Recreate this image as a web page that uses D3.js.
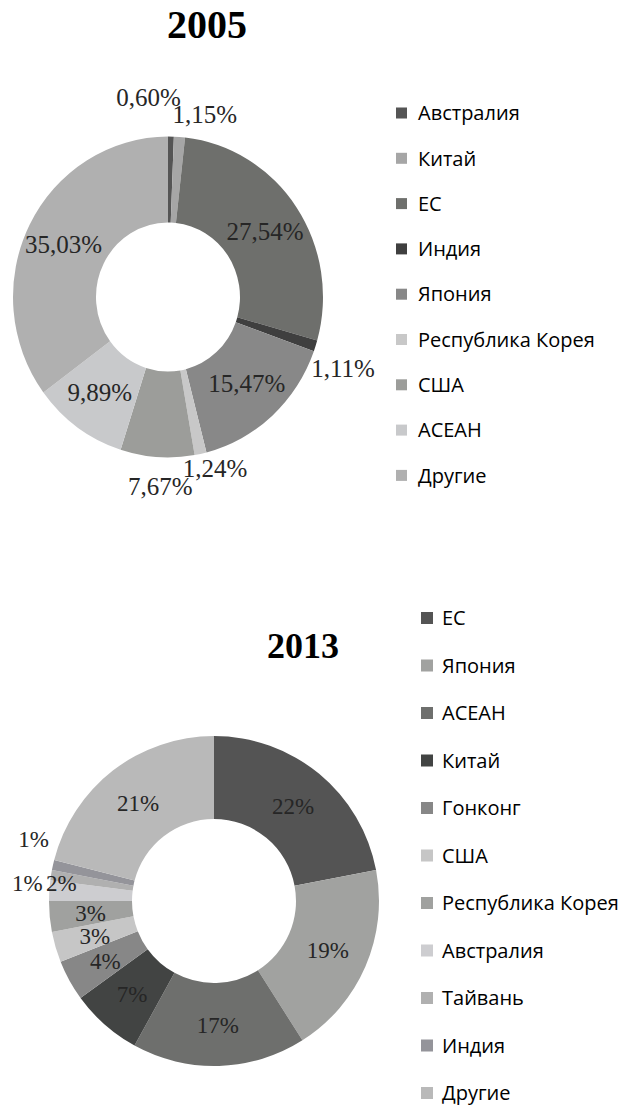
<!DOCTYPE html>
<html>
<head>
<meta charset="utf-8">
<script src="https://cdn.jsdelivr.net/npm/d3@7"></script>
<style>
  html, body { margin: 0; padding: 0; background: #fff; }
</style>
</head>
<body>
<div id="chart"></div>
<script>
// 2005
const cats2005 = ["Австралия", "Китай", "ЕС", "Индия", "Япония", "Республика Корея", "США", "АСЕАН", "Другие"]
const shares2005 = [0.60, 1.15, 27.54, 1.11, 15.47, 1.24, 7.67, 9.89, 35.03]
const colors2005 = ["#555555", "#a6a6a6", "#6e6f6c", "#3f3f3f", "#888888", "#c8c8c8", "#9c9d9a", "#c8c9cb", "#b0b0b0"]

// 2013
const cats2013 = ["ЕС", "Япония", "АСЕАН", "Китай", "Гонконг", "США", "Республика Корея", "Австралия", "Тайвань", "Индия", "Другие"]
const shares2013 = [22, 19, 17, 7, 4, 3, 3, 2, 1, 1, 21]
const colors2013 = ["#545454", "#a1a2a0", "#6e6f6d", "#424443", "#878787", "#c6c6c6", "#a0a19f", "#cdcdd0", "#b0b0b0", "#94949a", "#b9b9b9"]

const width = 627
const height = 1111

const svg = d3.select("#chart")
  .append("svg")
  .attr("width", width)
  .attr("height", height)

const labelFont = "'Liberation Serif', 'Times New Roman', serif"
const legendFont = "'Open Sans', 'Noto Sans', sans-serif"

function drawDonut(o) {
  const pie = d3.pie().sort(null).value(d => d)
  const arcs = pie(o.values)

  const arc = d3.arc().innerRadius(o.inner).outerRadius(o.outer)

  const g = svg.append("g")
    .attr("transform", `translate(${o.cx},${o.cy})`)

  g.append("g")
    .attr("transform", `scale(1,${o.squash})`)
    .selectAll("path")
    .data(arcs)
    .join("path")
    .attr("fill", (d, i) => o.colors[i])
    .attr("d", arc)

  // labels: inside on the ring, small slices pushed outside
  const inArc = d3.arc().innerRadius(o.labelR).outerRadius(o.labelR)
  const outArc = d3.arc().innerRadius(o.outR).outerRadius(o.outR)

  g.selectAll("text.lbl")
    .data(arcs)
    .join("text")
    .attr("class", "lbl")
    .attr("transform", (d, i) => {
      const special = o.special[i]
      const base = special && special.r ? d3.arc().innerRadius(special.r).outerRadius(special.r).centroid(d)
        : (o.outside.includes(i) ? outArc.centroid(d) : inArc.centroid(d))
      const n = special ? special.n : [0, 0]
      return `translate(${base[0] + n[0]},${base[1] + n[1]})`
    })
    .attr("text-anchor", "middle")
    .attr("dy", "0.35em")
    .attr("font-family", labelFont)
    .attr("font-size", o.fontSize)
    .attr("fill", "#262626")
    .text(d => o.fmt(d.data))
}

function drawLegend(o) {
  const g = svg.append("g")
  const item = g.selectAll("g")
    .data(o.cats)
    .join("g")
    .attr("transform", (d, i) => `translate(${o.x},${o.y + i * o.step})`)

  item.append("rect")
    .attr("x", 0)
    .attr("y", -o.size / 2)
    .attr("width", o.size)
    .attr("height", o.size)
    .attr("fill", (d, i) => o.colors[i])

  item.append("text")
    .attr("x", o.textX)
    .attr("dy", "0.36em")
    .attr("font-family", legendFont)
    .attr("font-size", 20)
    .attr("fill", "#000")
    .text(d => d)
}

function title(text, x, y, size) {
  svg.append("text")
    .attr("x", x)
    .attr("y", y)
    .attr("text-anchor", "middle")
    .attr("font-family", labelFont)
    .attr("font-weight", "bold")
    .attr("font-size", size)
    .attr("fill", "#000")
    .text(text)
}

// ---- 2005 ----
title("2005", 207, 38, 40)

drawDonut({
  values: shares2005,
  colors: colors2005,
  cx: 168, cy: 297, outer: 155, inner: 72, squash: 1.035,
  labelR: 117, outR: 186,
  outside: [0, 1, 3, 5, 6],
  special: {
    0: { n: [-23, -14] },
    1: { n: [23, 3] },
    3: { n: [-2, 14] },
    5: { n: [8, -11] },
    6: { n: [5, 4] }
  },
  fontSize: 25,
  fmt: v => d3.format(".2f")(v).replace(".", ",") + "%"
})

drawLegend({ cats: cats2005, colors: colors2005, x: 396, y: 113, step: 45.3, size: 11, textX: 22 })

// ---- 2013 ----
title("2013", 303, 658, 36)

drawDonut({
  values: shares2013,
  colors: colors2013,
  cx: 214, cy: 901, outer: 165, inner: 82, squash: 1,
  labelR: 124, outR: 188,
  outside: [8, 9],
  special: {
    7: { r: 153, n: [0, -8] },
    8: { n: [-1, 11] },
    9: { n: [3, -21] }
  },
  fontSize: 23,
  fmt: v => v + "%"
})

drawLegend({ cats: cats2013, colors: colors2013, x: 421, y: 618, step: 47.5, size: 12, textX: 21 })
</script>
</body>
</html>
